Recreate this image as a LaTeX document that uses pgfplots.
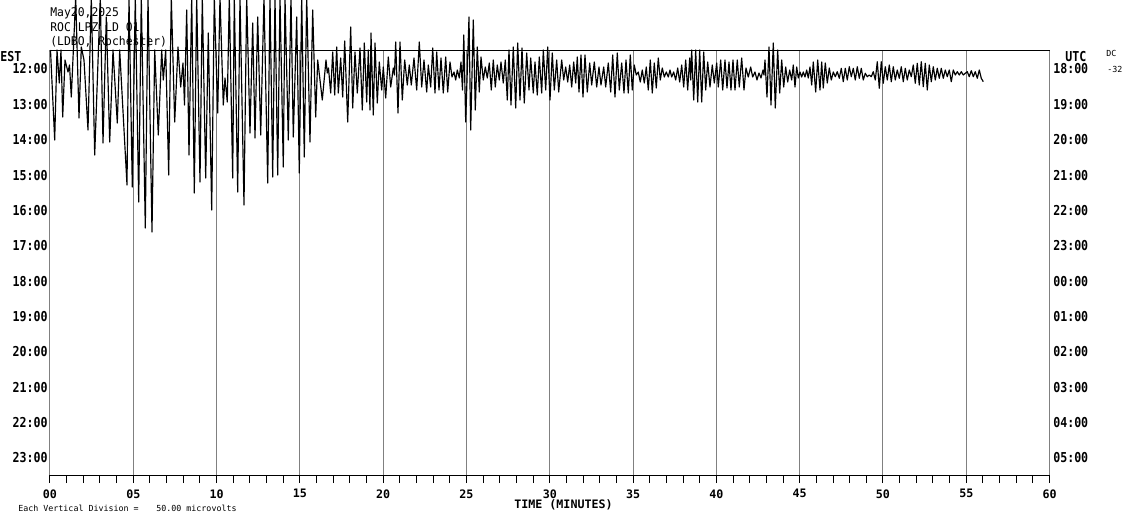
\documentclass[border=0pt]{standalone}
\usepackage{pgfplots}
\usepackage{pgfplotstable}
\pgfplotsset{compat=1.18}
\usepackage{fontspec}
\newfontfamily\monoA[FakeStretch=0.85]{DejaVu Sans Mono}
\newfontfamily\monoB[FakeStretch=0.95]{DejaVu Sans Mono}
\newfontfamily\monoS{DejaVu Sans Mono}
\newcommand\lbl{\monoA\bfseries\fontsize{8.2}{9}\selectfont}
\newcommand\lblx{\monoS\bfseries\fontsize{7}{8}\selectfont}
\newcommand\ttl{\monoB\fontsize{7.2}{8}\selectfont}
\newcommand\sml{\monoS\fontsize{5}{6}\selectfont}

% trace: x = pixel column (0 min at 50, 60 min at 1049.6), y = pixel row (12:00 line at 69)
\pgfplotstableread{
x y
50.5 50
54.7 140
57 50
59.3 83
61 50
62.7 117
65 60
68 72
69.5 65
71.3 97
75.7 -3
79 118
81.3 47
84 60
88 130
91.3 -3
94.7 155
100.3 -3
103 143
106.3 17
109.7 142
113 50
117.3 123
119.7 50
127 185
129 -3
132.3 187
135.3 -3
138.7 202
141.3 -3
145.3 228
148 -3
152 232
154.7 50
158.3 135
161.7 50
163.3 80
165.7 50
168.7 175
171.3 -3
174.7 122
178 47
180.7 87
183 63
184.5 105
186.7 10
189 155
191.7 -3
194.3 193
196.7 -3
200 182
202.3 -3
205.7 178
208.3 33
211.7 210
214.3 -3
217.7 113
220 -3
223.3 105
225 78
227.3 102
229.3 -3
232.7 178
234.3 -3
237.7 192
240 -3
244 205
246.7 -3
250 133
252.7 23
255 138
257.7 17
260.7 135
264 -3
267.7 183
270 -3
272.7 177
275 -3
277.7 175
280 -3
283.3 167
285 -3
288.3 140
291 -3
293.3 137
296.7 17
299.3 173
301.7 -3
304.3 157
306.7 -3
310 142
312.7 10
315.7 117
317.7 60
322.3 100
326 60
327.3 73
328.5 68
330.7 93
332.7 52
334.7 95
336.7 47
338.3 93
340.7 58
342.7 97
344.7 41
347.7 122
350.7 27
352.7 108
355 52
357.3 93
360 48
362.3 110
364.3 43
366.7 102
368.3 50
370 110
371 33
373.3 115
375 43
377.3 103
379.3 62
381.7 90
383.3 67
385.7 98
388.3 57
390.7 87
393.3 68
394.5 75
395.7 42
398 113
400 42
402.3 100
404.7 60
407.3 85
409.3 65
411.3 85
414 58
416.7 90
419.3 42
421.7 87
424 60
426.7 92
428.3 65
430.7 87
432.7 48
435 93
436.7 52
439 90
441 58
443.3 93
445.7 57
447.7 92
450 62
452 77
454 72
455.7 80
457.3 70
459.3 78
461 62
462.5 90
463.8 35
465.7 122
469 17
470.7 130
473.3 20
475.3 110
477.3 47
479.3 92
481 57
483.3 80
485.3 67
487.3 78
489.3 63
491.3 90
493.3 60
495.3 87
497.3 65
499.3 80
501 62
503.3 83
505.3 60
507.3 100
509 50
511 105
513.3 47
515.7 108
517.7 43
520 100
522 48
524.3 103
526.7 53
529 90
530.7 58
533.3 93
535 62
537.3 95
539.3 57
541.7 93
543.3 50
545.7 90
547.7 47
550 100
552.3 53
554.3 90
556.7 60
558.7 92
561.7 60
563.7 80
565.7 67
567.7 82
569.7 65
571.7 87
573.7 62
575.7 83
577.3 57
579 92
581 55
583 97
585 55
587.3 92
589.7 63
591.7 85
594.3 62
596.7 87
599 67
601 85
603.7 67
605.7 87
608.3 63
610.7 92
612.7 55
615 97
617.3 53
619.3 90
621.7 63
624 93
626 60
628.3 93
630.3 55
632.3 90
634.3 65
636.3 75
638.3 72
640.3 82
642.3 70
644.3 83
646.3 67
648.3 90
650.3 60
652.3 93
654.3 63
656.3 88
658.3 58
660.3 80
662.3 68
664.3 77
666.3 72
668.3 77
670 70
671.7 77
673.7 72
675.7 80
677.7 68
679.7 82
681.7 65
683.7 87
685.7 60
687.7 90
689.7 58
690.7 80
691.7 50
693.7 100
695.7 50
697.7 102
699.7 50
701.7 102
703.7 52
705.7 90
707.7 62
710 87
712.3 65
714.3 83
716.7 63
718.3 87
720.7 60
722.7 90
725 60
727 88
729 62
731 90
733 60
735 90
737.3 60
739.3 87
741.7 58
744 90
746 68
748.3 77
750.7 67
752.7 77
755 72
757 80
759 73
761 78
763 70
764 75
765 60
767 97
769 47
771 105
773.3 43
775.3 108
777.7 50
779.7 93
781.7 60
783.7 87
785.7 67
787.7 82
789.7 70
791.7 80
793.3 65
795 87
796.7 67
798.3 78
800 72
801.7 77
803.3 72
805 77
806.7 70
808.3 78
810 67
811.7 85
813.3 62
815.7 92
817.7 60
820 90
821.7 62
823.3 88
825.3 63
827.3 83
829.3 68
831.3 80
833.3 72
835.3 76.7
837.3 71.7
839.3 78.3
841.3 68.3
843.3 81.7
845.3 68.3
847.3 80
849.3 66.7
851.3 76.7
853.3 68.3
855.3 80
857.3 66.7
859.3 78.3
861.3 68.3
863.3 80
865.3 73.3
867.3 76.7
869.3 75
871.3 76.7
873.3 71.7
875.3 80
877.3 61.7
879.3 88.3
881.3 61.7
883.3 83.3
885.3 66.7
887.3 80
889.3 65
891.3 81.7
893.3 66.7
895.3 80
897.3 70
899.3 78.3
901.3 66.7
903.3 81.7
905.3 68.3
907.3 80
909.3 70
911.3 76.7
913.3 65
915.3 83.3
917.3 63.3
919.3 85
921.3 61.7
923.3 86.7
925.3 63.3
927.3 90
929.3 65
931.3 81.7
933.3 66.7
935.3 80
937.3 68.3
939.3 78.3
941.3 68.3
943.3 78.3
945.3 70
947.3 76.7
949.3 70
951.3 81.7
953.3 70
955.3 75
957.3 71.7
959.3 75
961.3 71.7
963.3 75
965.3 73.3
967.3 71.7
969.3 76.7
971.3 70.7
973.3 76.7
975.3 71.7
977.3 78.3
979.3 70
981.3 78.3
983.3 81.7
}\trace

\begin{document}
\begin{tikzpicture}
\path[use as bounding box] (-30pt,-26.4pt) rectangle (648pt,285pt);
\clip (-30pt,-26.4pt) rectangle (648pt,285pt);
\fill[white] (-30pt,-26.4pt) rectangle (648pt,285pt);
\begin{axis}[
  at={(0,0)}, anchor=south west,
  scale only axis, width=599.76pt, height=255pt,
  xmin=50, xmax=1049.6, ymin=50, ymax=475, y dir=reverse,
  clip=false,
  separate axis lines,
  every outer x axis line/.append style={black, line width=0.6pt},
  every outer y axis line/.append style={draw=none},
  xtick={50,133.3,216.6,299.9,383.2,466.5,549.8,633.1,716.4,799.7,883,966.3,1049.6},
  xticklabels={00,05,10,15,20,25,30,35,40,45,50,55,60},
  minor x tick num=4,
  xtick pos=lower, tick align=outside,
  major tick length=4.8pt, minor tick length=4.8pt,
  tick style={black, line width=0.6pt},
  xmajorgrids, major grid style={color=gray, line width=0.6pt},
  ytick={69,104.36,139.73,175.09,210.45,245.82,281.18,316.55,351.91,387.27,422.64,458},
  yticklabels={12:00,13:00,14:00,15:00,16:00,17:00,18:00,19:00,20:00,21:00,22:00,23:00},
  ytick style={draw=none},
  xticklabel style={font=\lblx, inner sep=0pt, anchor=north, yshift=-3.6pt},
  yticklabel style={font=\lbl, inner sep=0pt, anchor=east, xshift=3.6pt},
]
\node[anchor=base west, font=\ttl, inner sep=0pt] at (axis cs:50,16) {May20,2025};
\node[anchor=base west, font=\ttl, inner sep=0pt] at (axis cs:50,31) {ROC LPZ LD 01};
\node[anchor=base west, font=\ttl, inner sep=0pt] at (axis cs:50,45.5) {(LDBO, Rochester)};
\addplot[black, line width=0.7pt, line join=round, mark=none] table[x=x, y=y] {\trace};
\node[anchor=base west, font=\lbl, inner sep=0pt] at (axis cs:0,61) {EST};
\node[anchor=base west, font=\lbl, inner sep=0pt] at (axis cs:1065,61.5) {UTC};
\node[anchor=base west, font=\sml, inner sep=0pt] at (axis cs:1106,56) {DC};
\node[anchor=base west, font=\sml, inner sep=0pt] at (axis cs:1107,72.5) {-32};
\node[anchor=base west, font=\lblx, inner sep=0pt] at (axis cs:514,508.5) {TIME (MINUTES)};
\node[anchor=base west, font=\sml, inner sep=0pt] at (axis cs:18,511) {Each Vertical Division =};
\node[anchor=base west, font=\sml, inner sep=0pt] at (axis cs:156,511) {50.00 microvolts};
\end{axis}
\begin{axis}[
  at={(0,0)}, anchor=south west,
  scale only axis, width=599.76pt, height=255pt,
  xmin=50, xmax=1049.6, ymin=50, ymax=475, y dir=reverse,
  axis x line=none, axis y line*=right,
  y axis line style={draw=none},
  ytick={69,104.36,139.73,175.09,210.45,245.82,281.18,316.55,351.91,387.27,422.64,458},
  yticklabels={18:00,19:00,20:00,21:00,22:00,23:00,00:00,01:00,02:00,03:00,04:00,05:00},
  ytick style={draw=none},
  yticklabel style={font=\lbl, inner sep=0pt, anchor=west, xshift=2pt},
]
\end{axis}
\end{tikzpicture}
\end{document}
